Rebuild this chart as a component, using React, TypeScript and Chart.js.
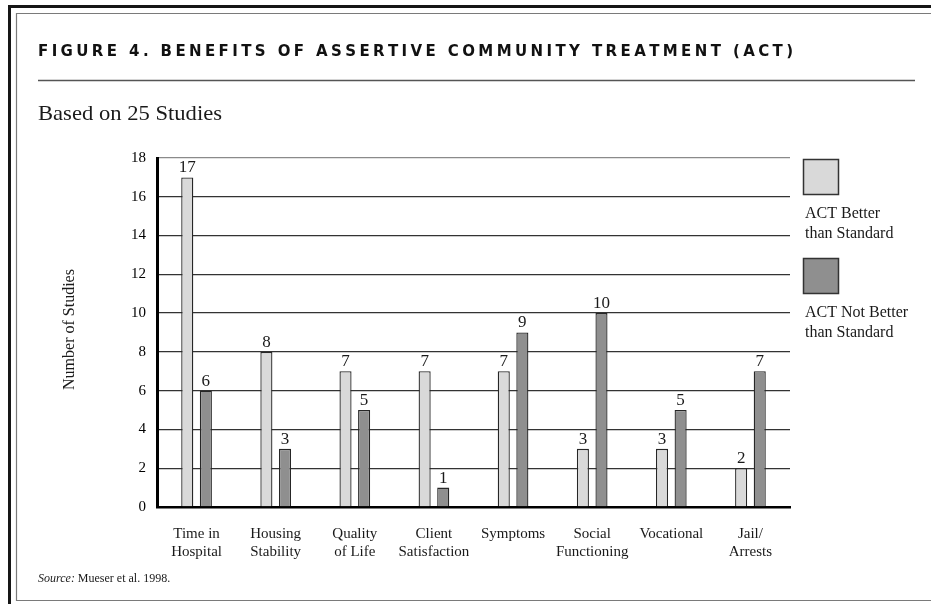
import React, { useEffect, useRef } from "react";
import { Chart, registerables } from "chart.js";

Chart.register(...registerables);

// ---- data ----
const categories: string[][] = [
  ["Time in", "Hospital"],
  ["Housing", "Stability"],
  ["Quality", "of Life"],
  ["Client", "Satisfaction"],
  ["Symptoms"],
  ["Social", "Functioning"],
  ["Vocational"],
  ["Jail/", "Arrests"],
];
const actBetter = [17, 8, 7, 7, 7, 3, 3, 2];
const actNotBetter = [6, 3, 5, 1, 9, 10, 5, 7];
const seriesLabels = ["ACT Better than Standard", "ACT Not Better than Standard"];
const legendLines = [
  ["ACT Better", "than Standard"],
  ["ACT Not Better", "than Standard"],
];
const yMin = 0;
const yMax = 18;
const yStep = 2;

const titleText = "FIGURE 4. BENEFITS OF ASSERTIVE COMMUNITY TREATMENT (ACT)";
const subtitleText = "Based on 25 Studies";
const yAxisTitle = "Number of Studies";
const sourceLabel = "Source:";
const sourceText = " Mueser et al. 1998.";

// ---- styles ----
const W = 931;
const H = 604;
const SERIF = '"Liberation Serif", "DejaVu Serif", serif';
const SANS = '"DejaVu Sans", "Liberation Sans", sans-serif';
const LIGHT = "#d9d9d9";
const DARK = "#8f8f8f";
const EDGE = "#262626";

function drawSpaced(ctx: CanvasRenderingContext2D, text: string, x: number, y: number, width: number) {
  const chars = text.split("");
  const widths = chars.map((c) => ctx.measureText(c).width);
  const sum = widths.reduce((a, b) => a + b, 0);
  const gap = (width - sum) / (chars.length - 1);
  let cx = x;
  chars.forEach((c, i) => {
    ctx.fillText(c, cx, y);
    cx += widths[i] + gap;
  });
}

function drawFit(ctx: CanvasRenderingContext2D, text: string, x: number, y: number, width: number) {
  const w = ctx.measureText(text).width;
  ctx.save();
  ctx.translate(x, y);
  ctx.scale(width / w, 1);
  ctx.fillText(text, 0, 0);
  ctx.restore();
}

// frame, headings, legend, axis title and source line
const decorations = {
  id: "decorations",
  beforeDraw(chart: any) {
    const ctx: CanvasRenderingContext2D = chart.ctx;
    ctx.save();
    ctx.fillStyle = "#fff";
    ctx.fillRect(0, 0, W, H);

    // outer frame
    ctx.fillStyle = "#161616";
    ctx.fillRect(8, 5, W - 8, 3);
    ctx.fillRect(8, 5, 3, H - 5);
    // inner frame
    ctx.strokeStyle = "#7a7a7a";
    ctx.lineWidth = 1.2;
    ctx.beginPath();
    ctx.moveTo(W, 13.5);
    ctx.lineTo(16.5, 13.5);
    ctx.lineTo(16.5, 600.5);
    ctx.lineTo(W, 600.5);
    ctx.stroke();

    // title
    ctx.fillStyle = "#111";
    ctx.textBaseline = "alphabetic";
    ctx.textAlign = "left";
    ctx.font = `bold 15px ${SANS}`;
    drawSpaced(ctx, titleText, 38, 56, 755);

    // rule under title
    ctx.strokeStyle = "#555";
    ctx.lineWidth = 1.5;
    ctx.beginPath();
    ctx.moveTo(38, 80.5);
    ctx.lineTo(915, 80.5);
    ctx.stroke();

    // subtitle
    ctx.font = `22px ${SERIF}`;
    ctx.fillStyle = "#1a1a1a";
    drawFit(ctx, subtitleText, 38, 120, 184);
    ctx.restore();
  },
  afterDraw(chart: any) {
    const ctx: CanvasRenderingContext2D = chart.ctx;
    const area = chart.chartArea;
    ctx.save();
    ctx.fillStyle = "#1a1a1a";

    // y axis title
    ctx.save();
    ctx.translate(70, (area.top + area.bottom) / 2 - 3);
    ctx.rotate(-Math.PI / 2);
    ctx.font = `16px ${SERIF}`;
    ctx.textAlign = "center";
    ctx.textBaseline = "middle";
    ctx.fillText(yAxisTitle, 0, 0);
    ctx.restore();

    // legend
    const fills = [LIGHT, DARK];
    const boxTops = [159, 258];
    fills.forEach((f, i) => {
      ctx.fillStyle = f;
      ctx.fillRect(803, boxTops[i], 35, 35);
      ctx.strokeStyle = "#333";
      ctx.lineWidth = 1.5;
      ctx.strokeRect(803.5, boxTops[i] + 0.5, 35, 35);
      ctx.fillStyle = "#1a1a1a";
      ctx.font = `16px ${SERIF}`;
      ctx.textAlign = "left";
      ctx.textBaseline = "middle";
      legendLines[i].forEach((line, j) => {
        ctx.fillText(line, 805, boxTops[i] + 55 + j * 20);
      });
    });

    // source
    ctx.textBaseline = "alphabetic";
    ctx.textAlign = "left";
    ctx.font = `italic 12px ${SERIF}`;
    ctx.fillText(sourceLabel, 38, 582);
    const sw = ctx.measureText(sourceLabel).width;
    ctx.font = `12px ${SERIF}`;
    ctx.fillText(sourceText, 38 + sw, 582);
    ctx.restore();
  },
};

// numbers above bars, taken from the bar values
const valueLabels = {
  id: "valueLabels",
  afterDatasetsDraw(chart: any) {
    const ctx: CanvasRenderingContext2D = chart.ctx;
    ctx.save();
    ctx.fillStyle = "#1a1a1a";
    ctx.font = `17px ${SERIF}`;
    ctx.textAlign = "center";
    ctx.textBaseline = "bottom";
    chart.data.datasets.forEach((ds: any, di: number) => {
      const meta = chart.getDatasetMeta(di);
      meta.data.forEach((bar: any, i: number) => {
        ctx.fillText(String(ds.data[i]), bar.x, bar.y - 1);
      });
    });
    ctx.restore();
  },
};

export default function App() {
  const ref = useRef<HTMLCanvasElement | null>(null);

  useEffect(() => {
    document.body.style.margin = "0";
    const canvas = ref.current;
    if (!canvas) return;
    const chart = new Chart(canvas, {
      type: "bar",
      data: {
        labels: categories,
        datasets: [
          {
            label: seriesLabels[0],
            data: actBetter,
            backgroundColor: LIGHT,
            borderColor: EDGE,
            borderWidth: 1.3,
            categoryPercentage: 0.47,
            barPercentage: 0.65,
          },
          {
            label: seriesLabels[1],
            data: actNotBetter,
            backgroundColor: DARK,
            borderColor: EDGE,
            borderWidth: 1.3,
            categoryPercentage: 0.47,
            barPercentage: 0.65,
          },
        ],
      },
      options: {
        responsive: false,
        animation: false,
        devicePixelRatio: 1,
        layout: { padding: { left: 0, top: 158, right: 141, bottom: 0 } },
        plugins: {
          legend: { display: false },
          tooltip: { enabled: false },
          title: { display: false },
        },
        scales: {
          x: {
            grid: { display: false, drawTicks: false },
            border: { display: true, color: "#000", width: 2.5 },
            ticks: {
              autoSkip: false,
              maxRotation: 0,
              minRotation: 0,
              padding: 18,
              color: "#1a1a1a",
              font: { family: SERIF, size: 15, lineHeight: 1.2 },
            },
            afterFit: (s: any) => {
              s.height = 97;
            },
          },
          y: {
            min: yMin,
            max: yMax,
            ticks: {
              stepSize: yStep,
              padding: 11,
              color: "#000",
              font: { family: SERIF, size: 15 },
            },
            grid: {
              drawTicks: false,
              lineWidth: 1.3,
              color: (c: any) => (c.tick && c.tick.value === yMax ? "#8a8a8a" : "#333"),
            },
            border: { display: true, color: "#000", width: 3 },
            afterFit: (s: any) => {
              s.width = 157;
            },
          },
        },
      },
      plugins: [decorations, valueLabels],
    });
    return () => chart.destroy();
  }, []);

  return (
    <div style={{ position: "absolute", left: 0, top: 0, width: W, height: H }}>
      <canvas ref={ref} width={W} height={H} style={{ display: "block", width: W, height: H }} />
    </div>
  );
}
